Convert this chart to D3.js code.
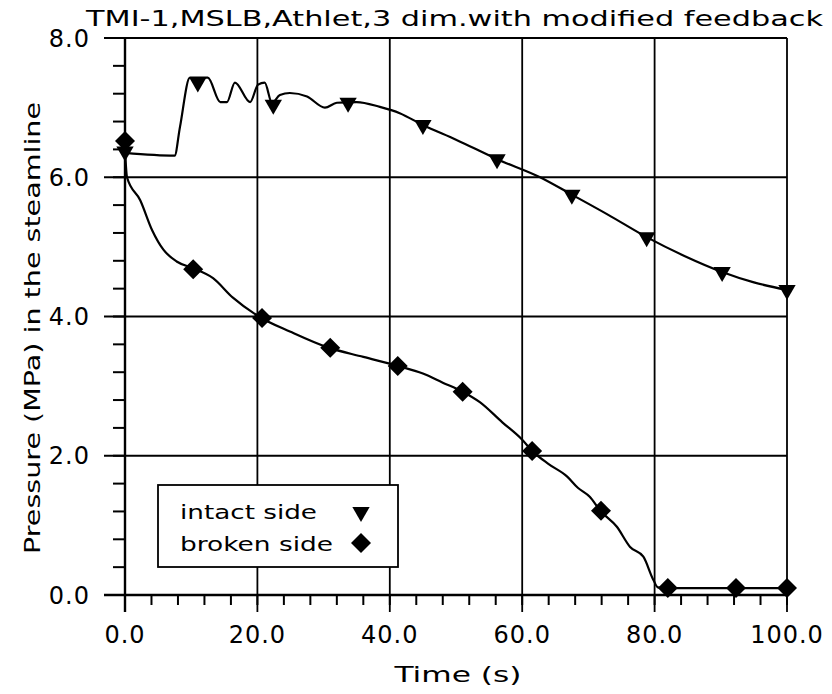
<!DOCTYPE html>
<html>
<head>
<meta charset="utf-8">
<script src="https://cdn.jsdelivr.net/npm/d3@7"></script>
<style>
  body { margin: 0; background: #fff; }
  svg { display: block; }
</style>
</head>
<body>
<svg id="mainsvg" width="832" height="694"></svg>
<script>
// curve data
const intactT = [0, 7.5, 8.3, 9.8, 12.5, 14.4, 15.4, 16.6, 18.9, 20.1, 21.1, 22.2, 23.4, 24.9, 27.5, 30.2, 32, 35, 38.5, 41.5, 45, 50, 56.2, 62.7, 67.5, 73, 78.8, 84.5, 90.2, 95, 100];
const intactP = [6.35, 6.31, 6.72, 7.43, 7.43, 7.08, 7.08, 7.36, 7.08, 7.33, 7.36, 7.07, 7.18, 7.21, 7.16, 7.0, 7.07, 7.08, 7.01, 6.92, 6.75, 6.54, 6.26, 6.0, 5.75, 5.46, 5.14, 4.87, 4.64, 4.49, 4.38];
const intactMarkT = [0, 11, 22.4, 33.7, 45, 56.2, 67.5, 78.8, 90.2, 100];
const intactMarkP = [6.37, 7.36, 7.04, 7.07, 6.75, 6.26, 5.75, 5.14, 4.64, 4.38];

const brokenT = [0, 0.3, 2.3, 4.1, 5.8, 7.8, 10.1, 13.3, 16.3, 20.4, 25, 30.5, 36, 41.2, 45, 48, 51, 53.6, 57, 60, 61.5, 64, 66.8, 68.4, 70.2, 71.8, 74.3, 76.3, 78.3, 79.8, 80.5, 82, 92.3, 100];
const brokenP = [6.4, 6.0, 5.67, 5.24, 4.96, 4.79, 4.7, 4.55, 4.27, 3.99, 3.78, 3.56, 3.42, 3.29, 3.18, 3.05, 2.92, 2.77, 2.48, 2.23, 2.07, 1.88, 1.70, 1.54, 1.41, 1.21, 0.98, 0.69, 0.55, 0.22, 0.11, 0.1, 0.1, 0.1];
const brokenMarkT = [0, 10.3, 20.7, 31, 41.2, 51, 61.5, 71.9, 82, 92.3, 100];
const brokenMarkP = [6.52, 4.68, 3.98, 3.55, 3.29, 2.92, 2.07, 1.21, 0.1, 0.1, 0.1];

const xTicks = [0, 20, 40, 60, 80, 100];
const yTicks = [0, 2, 4, 6, 8];
const legendLabels = ['intact side', 'broken side'];
const titleText = 'TMI-1,MSLB,Athlet,3 dim.with modified feedback';

const svg = d3.select('#mainsvg');
const x = d3.scaleLinear().domain([0, 100]).range([125, 787]);
const y = d3.scaleLinear().domain([0, 8]).range([595, 38]);
const fmt = d3.format('.1f');
const tickFont = 'DejaVu Sans, sans-serif';

// grid lines (horizontal ones run out through the major tick)
svg.append('g').selectAll('line')
  .data(yTicks.filter(d => d > 0))
  .join('line')
  .attr('x1', x(0) - 21).attr('x2', x(100))
  .attr('y1', d => y(d)).attr('y2', d => y(d))
  .attr('stroke', '#000').attr('stroke-width', 1.8);
svg.append('g').selectAll('line')
  .data(xTicks.filter(d => d > 0))
  .join('line')
  .attr('x1', d => x(d)).attr('x2', d => x(d))
  .attr('y1', y(0) + 17).attr('y2', y(8))
  .attr('stroke', '#000').attr('stroke-width', 1.8);

// minor ticks
svg.append('g').selectAll('line')
  .data(d3.range(0, 8.01, 0.4))
  .join('line')
  .attr('x1', x(0) - 12).attr('x2', x(0))
  .attr('y1', d => y(d)).attr('y2', d => y(d))
  .attr('stroke', '#000').attr('stroke-width', 2);
svg.append('g').selectAll('line')
  .data(d3.range(0, 100.1, 4))
  .join('line')
  .attr('x1', d => x(d)).attr('x2', d => x(d))
  .attr('y1', y(0)).attr('y2', y(0) + 10)
  .attr('stroke', '#000').attr('stroke-width', 2);

// axis lines
svg.append('line')
  .attr('x1', x(0)).attr('x2', x(0)).attr('y1', y(8)).attr('y2', y(0) + 17)
  .attr('stroke', '#000').attr('stroke-width', 2.4);
svg.append('line')
  .attr('x1', x(0) - 21).attr('x2', x(100)).attr('y1', y(0)).attr('y2', y(0))
  .attr('stroke', '#000').attr('stroke-width', 2.4);

// tick labels
svg.append('g').selectAll('text')
  .data(yTicks)
  .join('text')
  .attr('x', 90).attr('y', d => y(d)).attr('dy', '0.36em')
  .attr('text-anchor', 'end')
  .attr('font-family', tickFont).attr('font-size', 24)
  .attr('letter-spacing', 1)
  .text(fmt);
svg.append('g').selectAll('text')
  .data(xTicks)
  .join('text')
  .attr('x', d => x(d)).attr('y', 643)
  .attr('text-anchor', 'middle')
  .attr('font-family', tickFont).attr('font-size', 24)
  .attr('letter-spacing', 1)
  .text(fmt);

// curves
const line = d3.line().x(d => x(d[0])).y(d => y(d[1])).curve(d3.curveMonotoneX);
svg.append('path')
  .datum(d3.zip(intactT, intactP))
  .attr('d', line)
  .attr('fill', 'none').attr('stroke', '#000').attr('stroke-width', 2.2);
svg.append('path')
  .datum(d3.zip(brokenT, brokenP))
  .attr('d', line)
  .attr('fill', 'none').attr('stroke', '#000').attr('stroke-width', 2.2);

// markers
const tri = d3.symbol().type(d3.symbolTriangle).size(130);
const dia = d3.symbol().type(d3.symbolSquare).size(200);
svg.append('g').selectAll('path')
  .data(d3.zip(brokenMarkT, brokenMarkP))
  .join('path')
  .attr('d', dia)
  .attr('transform', d => `translate(${x(d[0])},${y(d[1])}) rotate(45)`)
  .attr('fill', '#000');
svg.append('g').selectAll('path')
  .data(d3.zip(intactMarkT, intactMarkP))
  .join('path')
  .attr('d', tri)
  .attr('transform', d => `translate(${x(d[0])},${y(d[1])}) rotate(180)`)
  .attr('fill', '#000');

// title
svg.append('text')
  .attr('x', 86).attr('y', 26)
  .attr('font-family', 'DejaVu Sans, sans-serif')
  .attr('font-size', 22)
  .attr('textLength', 737).attr('lengthAdjust', 'spacingAndGlyphs')
  .text(titleText);

// axis titles
svg.append('text')
  .attr('transform', 'translate(40,328) rotate(-90)')
  .attr('text-anchor', 'middle')
  .attr('font-family', 'DejaVu Sans, sans-serif')
  .attr('font-size', 21)
  .attr('textLength', 452).attr('lengthAdjust', 'spacingAndGlyphs')
  .text('Pressure (MPa) in the steamline');
svg.append('text')
  .attr('x', 458).attr('y', 682)
  .attr('text-anchor', 'middle')
  .attr('font-family', 'DejaVu Sans, sans-serif')
  .attr('font-size', 22)
  .attr('textLength', 127).attr('lengthAdjust', 'spacingAndGlyphs')
  .text('Time (s)');

// legend
const lg = svg.append('g');
lg.append('rect')
  .attr('x', 158).attr('y', 485).attr('width', 240).attr('height', 82)
  .attr('fill', '#fff').attr('stroke', '#000').attr('stroke-width', 1.8);
const legLen = [137, 153];
legendLabels.forEach((lab, i) => {
  lg.append('text')
    .attr('x', 180).attr('y', 519 + i * 32)
    .attr('font-family', 'DejaVu Sans, sans-serif')
    .attr('font-size', 20)
    .attr('textLength', legLen[i]).attr('lengthAdjust', 'spacingAndGlyphs')
    .text(lab);
});
lg.append('path').attr('d', tri).attr('transform', 'translate(361,512) rotate(180)').attr('fill', '#000');
lg.append('path').attr('d', dia).attr('transform', 'translate(361,543) rotate(45)').attr('fill', '#000');
</script>
</body>
</html>
